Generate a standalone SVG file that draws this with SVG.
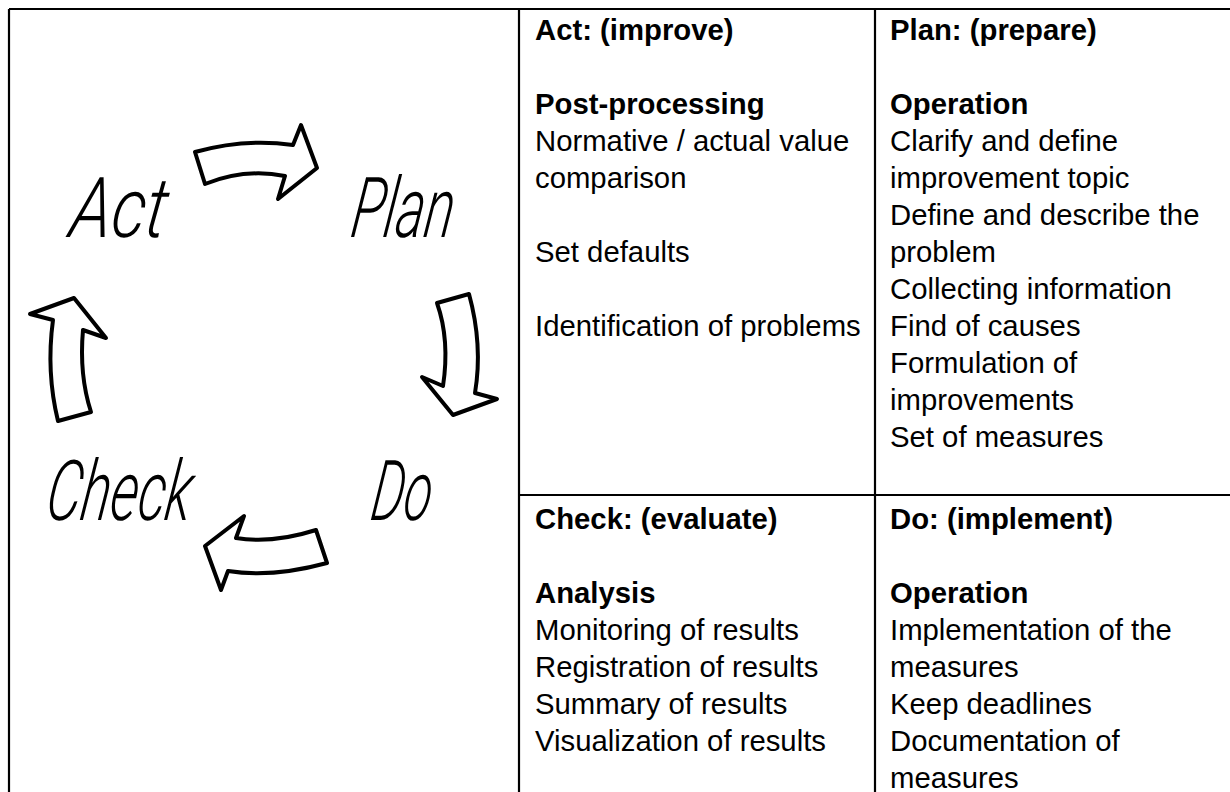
<svg xmlns="http://www.w3.org/2000/svg" width="1230" height="792" viewBox="0 0 1230 792">
<style>
.t{font-family:"Liberation Sans",Arial,sans-serif;font-size:29.3px;fill:#000}
.b{font-weight:bold}
.hw{font-family:Roboto,Lato,"Open Sans",sans-serif;font-style:italic;font-weight:300;font-size:84px;fill:#000}
.arr{fill:#fff;stroke:#000;stroke-width:4;stroke-linejoin:round}
.grid{stroke:#000;stroke-width:2.2;fill:none}
</style>
<rect width="1230" height="792" fill="#fff"/>
<g id="table-lines" class="grid">
<line x1="9" y1="9" x2="1230" y2="9"/>
<line x1="9" y1="9" x2="9" y2="792"/>
<line x1="519" y1="9" x2="519" y2="792"/>
<line x1="875" y1="9" x2="875" y2="792"/>
<line x1="519" y1="495" x2="1230" y2="495"/>
</g>
<g id="cycle-labels">
<g id="act-label" transform="translate(68,237) skewX(-8)"><text class="hw" x="0" y="0" textLength="96" lengthAdjust="spacingAndGlyphs">Act</text></g>
<g id="plan-label" transform="translate(349,237) skewX(-8)"><text class="hw" x="0" y="0" textLength="102" lengthAdjust="spacingAndGlyphs">Plan</text></g>
<g id="do-label" transform="translate(369,520) skewX(-8)"><text class="hw" x="0" y="0" textLength="60" lengthAdjust="spacingAndGlyphs">Do</text></g>
<g id="check-label" transform="translate(44,520) skewX(-8)"><text class="hw" x="0" y="0" textLength="145" lengthAdjust="spacingAndGlyphs">Check</text></g>
</g>
<g id="connectors">
<path id="arrow-act-plan" class="arr" d="M195,152 Q245,138 293,145 L301,125 L317,168 L278,199 L285,176 Q245,168 205,184 Z"/>
<path id="arrow-plan-do" class="arr" d="M437,303 L469,294 Q483,345 475,393 L497,399 L453,415 L422,377 L443,386 Q450,340 437,303 Z"/>
<path id="arrow-do-check" class="arr" d="M205,546 L244,516 L236,538 Q272,544 316,530 L327,563 Q272,578 228,571 L221,590 Z"/>
<path id="arrow-check-act" class="arr" d="M74,298 L106,338 L83,330 Q79,375 91,412 L58,421 Q46,372 53,320 L30,314 Z"/>
</g>
<g id="cell-act">
<text class="t b" x="535" y="40">Act: (improve)</text>
<text class="t b" x="535" y="114">Post-processing</text>
<text class="t" x="535" y="151">Normative / actual value</text>
<text class="t" x="535" y="188">comparison</text>
<text class="t" x="535" y="262">Set defaults</text>
<text class="t" x="535" y="336">Identification of problems</text>
</g>
<g id="cell-plan">
<text class="t b" x="890" y="40">Plan: (prepare)</text>
<text class="t b" x="890" y="114">Operation</text>
<text class="t" x="890" y="151">Clarify and define</text>
<text class="t" x="890" y="188">improvement topic</text>
<text class="t" x="890" y="225">Define and describe the</text>
<text class="t" x="890" y="262">problem</text>
<text class="t" x="890" y="299">Collecting information</text>
<text class="t" x="890" y="336">Find of causes</text>
<text class="t" x="890" y="373">Formulation of</text>
<text class="t" x="890" y="410">improvements</text>
<text class="t" x="890" y="447">Set of measures</text>
</g>
<g id="cell-check">
<text class="t b" x="535" y="529">Check: (evaluate)</text>
<text class="t b" x="535" y="603">Analysis</text>
<text class="t" x="535" y="640">Monitoring of results</text>
<text class="t" x="535" y="677">Registration of results</text>
<text class="t" x="535" y="714">Summary of results</text>
<text class="t" x="535" y="751">Visualization of results</text>
</g>
<g id="cell-do">
<text class="t b" x="890" y="529">Do: (implement)</text>
<text class="t b" x="890" y="603">Operation</text>
<text class="t" x="890" y="640">Implementation of the</text>
<text class="t" x="890" y="677">measures</text>
<text class="t" x="890" y="714">Keep deadlines</text>
<text class="t" x="890" y="751">Documentation of</text>
<text class="t" x="890" y="788">measures</text>
</g>
</svg>
